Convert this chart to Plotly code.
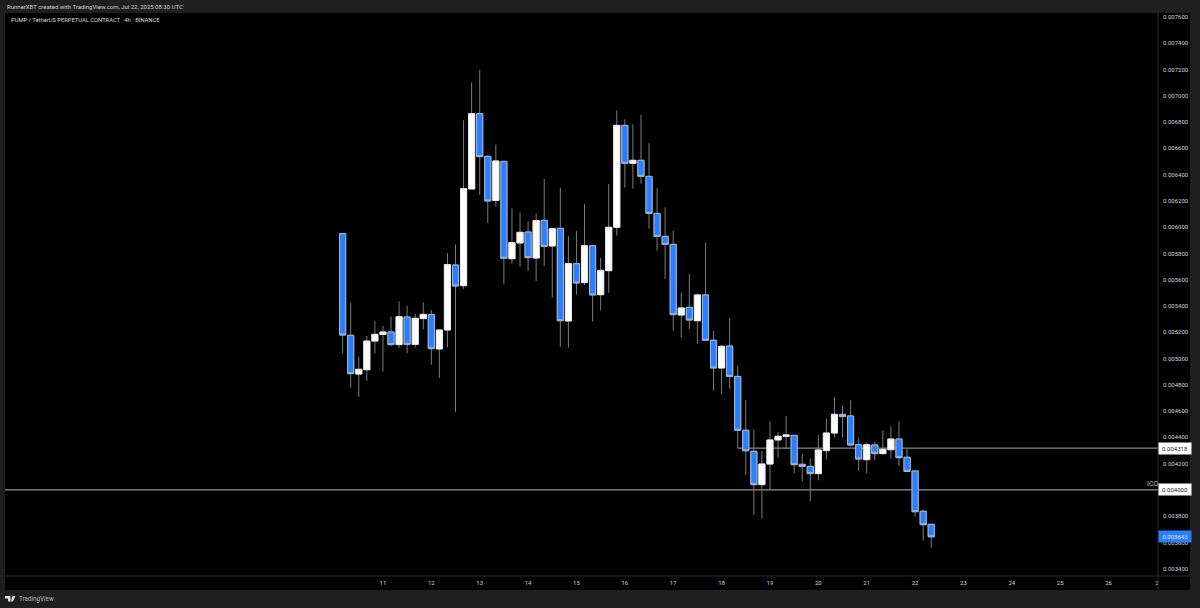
import pandas as pd
import plotly.graph_objects as go

FONT = "Roboto"
BG = "#1f1f1f"
SEP = "#2a2a2a"
TICKCOL = "#d4d4d4"
BLUE = "#2a7fff"
WICK = "#7c7c7c"

# 4h candles, prices in millionths of a USDT
opens = [5951, 5177, 4882, 4915, 5133, 5184, 5202, 5106, 5316, 5108, 5304, 5334, 5073, 5217, 5712, 5555, 6291, 6864, 6539, 6204,
         6501, 5760, 5880, 5963, 5765, 6052, 5857, 5991, 5286, 5722, 5578, 5859, 5486, 5669, 5999, 6775, 6486, 6509, 6387, 6105,
         5930, 5869, 5331, 5390, 5288, 5484, 5139, 4928, 5095, 4864, 4454, 4294, 4040, 4197, 4380, 4408, 4415, 4195, 4179, 4124,
         4299, 4433, 4575, 4563, 4344, 4230, 4342, 4276, 4306, 4387, 4248, 4144, 3837, 3738]
highs = [5951, 5425, 5014, 5172, 5286, 5248, 5319, 5435, 5400, 5339, 5428, 5369, 5217, 5803, 5867, 6813, 7103, 7197, 6550, 6628,
         6501, 6143, 6113, 6045, 6105, 6367, 5989, 6301, 5933, 5971, 6176, 5859, 5765, 6329, 6890, 6821, 6783, 6854, 6641, 6296,
         6151, 5973, 5499, 5644, 5496, 5882, 5210, 5103, 5306, 4946, 4684, 4461, 4296, 4522, 4438, 4563, 4415, 4273, 4240, 4418,
         4540, 4707, 4644, 4682, 4393, 4362, 4365, 4453, 4484, 4522, 4316, 4144, 3852, 3738]
lows = [5040, 4778, 4707, 4831, 5040, 4900, 5095, 5083, 5040, 5083, 5222, 4953, 4852, 5085, 4593, 5529, 6291, 6245, 6032, 6156,
        5567, 5722, 5699, 5666, 5590, 5704, 5463, 5088, 5083, 5486, 5560, 5281, 5367, 5501, 5935, 6301, 6293, 6331, 5989, 5821,
        5606, 5212, 5159, 5222, 5113, 5139, 4755, 4727, 4771, 4317, 4113, 3809, 3781, 4004, 4245, 4316, 4124, 4063, 3913, 4073,
        4233, 4398, 4400, 4329, 4146, 4126, 4228, 4268, 4238, 4182, 4141, 3796, 3613, 3560]
closes = [5179, 4885, 4918, 5133, 5184, 5202, 5106, 5319, 5108, 5306, 5336, 5075, 5217, 5715, 5552, 6293, 6864, 6537, 6199, 6504,
          5763, 5882, 5961, 5768, 6050, 5854, 5989, 5288, 5722, 5575, 5859, 5484, 5671, 5999, 6775, 6486, 6509, 6387, 6105, 5930,
          5869, 5334, 5385, 5293, 5484, 5139, 4928, 5093, 4864, 4454, 4298, 4040, 4197, 4380, 4408, 4418, 4192, 4179, 4124, 4304,
          4433, 4575, 4558, 4342, 4235, 4344, 4276, 4309, 4387, 4245, 4141, 3834, 3735, 3643]

first_candle = "2025-07-10 04:00"
tick_days = ["2025-07-%02d" % d for d in range(11, 28)]
tick_text = [str(d) for d in range(11, 27)] + ["2"]
price_ticks = [0.0034 + 0.0002 * i for i in range(22)]
x_range = ["2025-07-03 04:30", "2025-07-27 00:30"]
y_range = [0.0033444, 0.0076305]
support = 0.004318
ico = 0.004
last_price = 0.003643

times = pd.date_range(first_candle, periods=len(opens), freq="4h")
scale = 1e-6

o = [v * scale for v in opens]
c = [v * scale for v in closes]

fig = go.Figure()
# wicks in grey
fig.add_trace(go.Candlestick(
    x=times, open=o, close=c,
    high=[v * scale for v in highs],
    low=[v * scale for v in lows],
    increasing=dict(fillcolor="#ffffff", line=dict(color=WICK, width=1)),
    decreasing=dict(fillcolor=BLUE, line=dict(color=WICK, width=1)),
    whiskerwidth=0,
    showlegend=False,
))
# bodies again on top, their border is paler than the wicks
fig.add_trace(go.Candlestick(
    x=times, open=o, close=c,
    high=[max(a, b) for a, b in zip(o, c)],
    low=[min(a, b) for a, b in zip(o, c)],
    increasing=dict(fillcolor="#ffffff", line=dict(color="#ececec", width=1)),
    decreasing=dict(fillcolor=BLUE, line=dict(color="#a3b8d6", width=1)),
    whiskerwidth=0,
    showlegend=False,
))

W, H = 1200, 608
L, R, T, B = 5, 42, 13, 32
pw, ph = W - L - R, H - T - B


def px_x(p):
    return (p - L) / pw


def px_y(p):
    return 1 - (p - T) / ph


shapes = [
    # black chart frame, axis bands included
    dict(type="rect", xref="paper", yref="paper", x0=0, x1=px_x(1190), y0=px_y(590), y1=1,
         fillcolor="#000000", line_width=0, layer="below"),
    dict(type="line", xref="paper", yref="paper", x0=1, x1=1, y0=px_y(590), y1=1,
         line=dict(color=SEP, width=1)),
    dict(type="line", xref="paper", yref="paper", x0=0, x1=px_x(1190), y0=0, y1=0,
         line=dict(color=SEP, width=1)),
    # horizontal levels
    dict(type="line", xref="paper", yref="y", x0=0, x1=1, y0=ico, y1=ico,
         line=dict(color="#b8b8b8", width=1), layer="below"),
    dict(type="line", xref="x", yref="y", x0=times[49], x1=x_range[1], y0=support, y1=support,
         line=dict(color="#a8a8a8", width=1), layer="below"),
    # TradingView logo
    dict(type="path", xref="paper", yref="paper", line_width=0, fillcolor="#e0e0e0",
         path="M %.5f %.5f L %.5f %.5f L %.5f %.5f L %.5f %.5f L %.5f %.5f L %.5f %.5f Z" % (
             px_x(5), px_y(596), px_x(10.5), px_y(596), px_x(10.5), px_y(601.5),
             px_x(8), px_y(601.5), px_x(8), px_y(598.5), px_x(5), px_y(598.5))),
    dict(type="path", xref="paper", yref="paper", line_width=0, fillcolor="#e0e0e0",
         path="M %.5f %.5f L %.5f %.5f L %.5f %.5f L %.5f %.5f Z" % (
             px_x(12.5), px_y(596), px_x(15.5), px_y(596), px_x(13), px_y(601.5), px_x(10.8), px_y(601.5))),
]


def label(text, x, y, color, size=6, anchor="left", xref="paper", yref="paper", **kw):
    return dict(text=text, x=x, y=y, xref=xref, yref=yref, xanchor=anchor, yanchor="middle",
                showarrow=False, font=dict(family=FONT, size=size, color=color), **kw)


annotations = [
    label("RunnerXBT created with TradingView.com, Jul 22, 2025 08:30 UTC", px_x(5), px_y(6.5), "#d0d0d0", 6),
    label("PUMP / TetherUS PERPETUAL CONTRACT · 4h · BINANCE", px_x(9), px_y(20.5), "#d8d8d8", 5.8),
    label("TradingView", px_x(16.5), px_y(599), "#b8b8b8", 6.3),
    label("ICO", px_x(1145), ico, "#c0c0c0", 7, yref="y", yshift=6),
    label("0.004318", 1, support, "#222222", 6, yref="y", bgcolor="#ffffff", width=30, height=9, align="center"),
    label("0.004000", 1, ico, "#222222", 6, yref="y", bgcolor="#ffffff", width=30, height=9, align="center"),
    label("0.003643", 1, last_price, "#dfe9ff", 6, yref="y", bgcolor=BLUE, width=30, height=9, align="center"),
]

fig.update_layout(
    width=W, height=H,
    margin=dict(l=L, r=R, t=T, b=B),
    paper_bgcolor=BG,
    plot_bgcolor="#000000",
    boxmode="overlay",
    boxgap=0.24,
    boxgroupgap=0,
    shapes=shapes,
    annotations=annotations,
    font=dict(family=FONT, size=6, color=TICKCOL),
)
fig.update_xaxes(
    range=x_range, rangeslider_visible=False, showgrid=False, zeroline=False, showline=False,
    tickmode="array", tickvals=tick_days, ticktext=tick_text, ticks="", ticklabelstandoff=2,
    tickfont=dict(family=FONT, size=6, color=TICKCOL),
)
fig.update_yaxes(
    range=y_range, side="right", showgrid=False, zeroline=False, showline=False,
    tickmode="array", tickvals=price_ticks, tickformat=".6f", ticks="", ticklabelstandoff=4,
    tickfont=dict(family=FONT, size=6, color=TICKCOL),
)

# page body has an 8px default margin, drop it so the figure fills the window
fig.write_html("out.html", config=dict(displayModeBar=False),
               post_script="document.body.style.margin='0';document.body.style.background='%s';" % BG)
